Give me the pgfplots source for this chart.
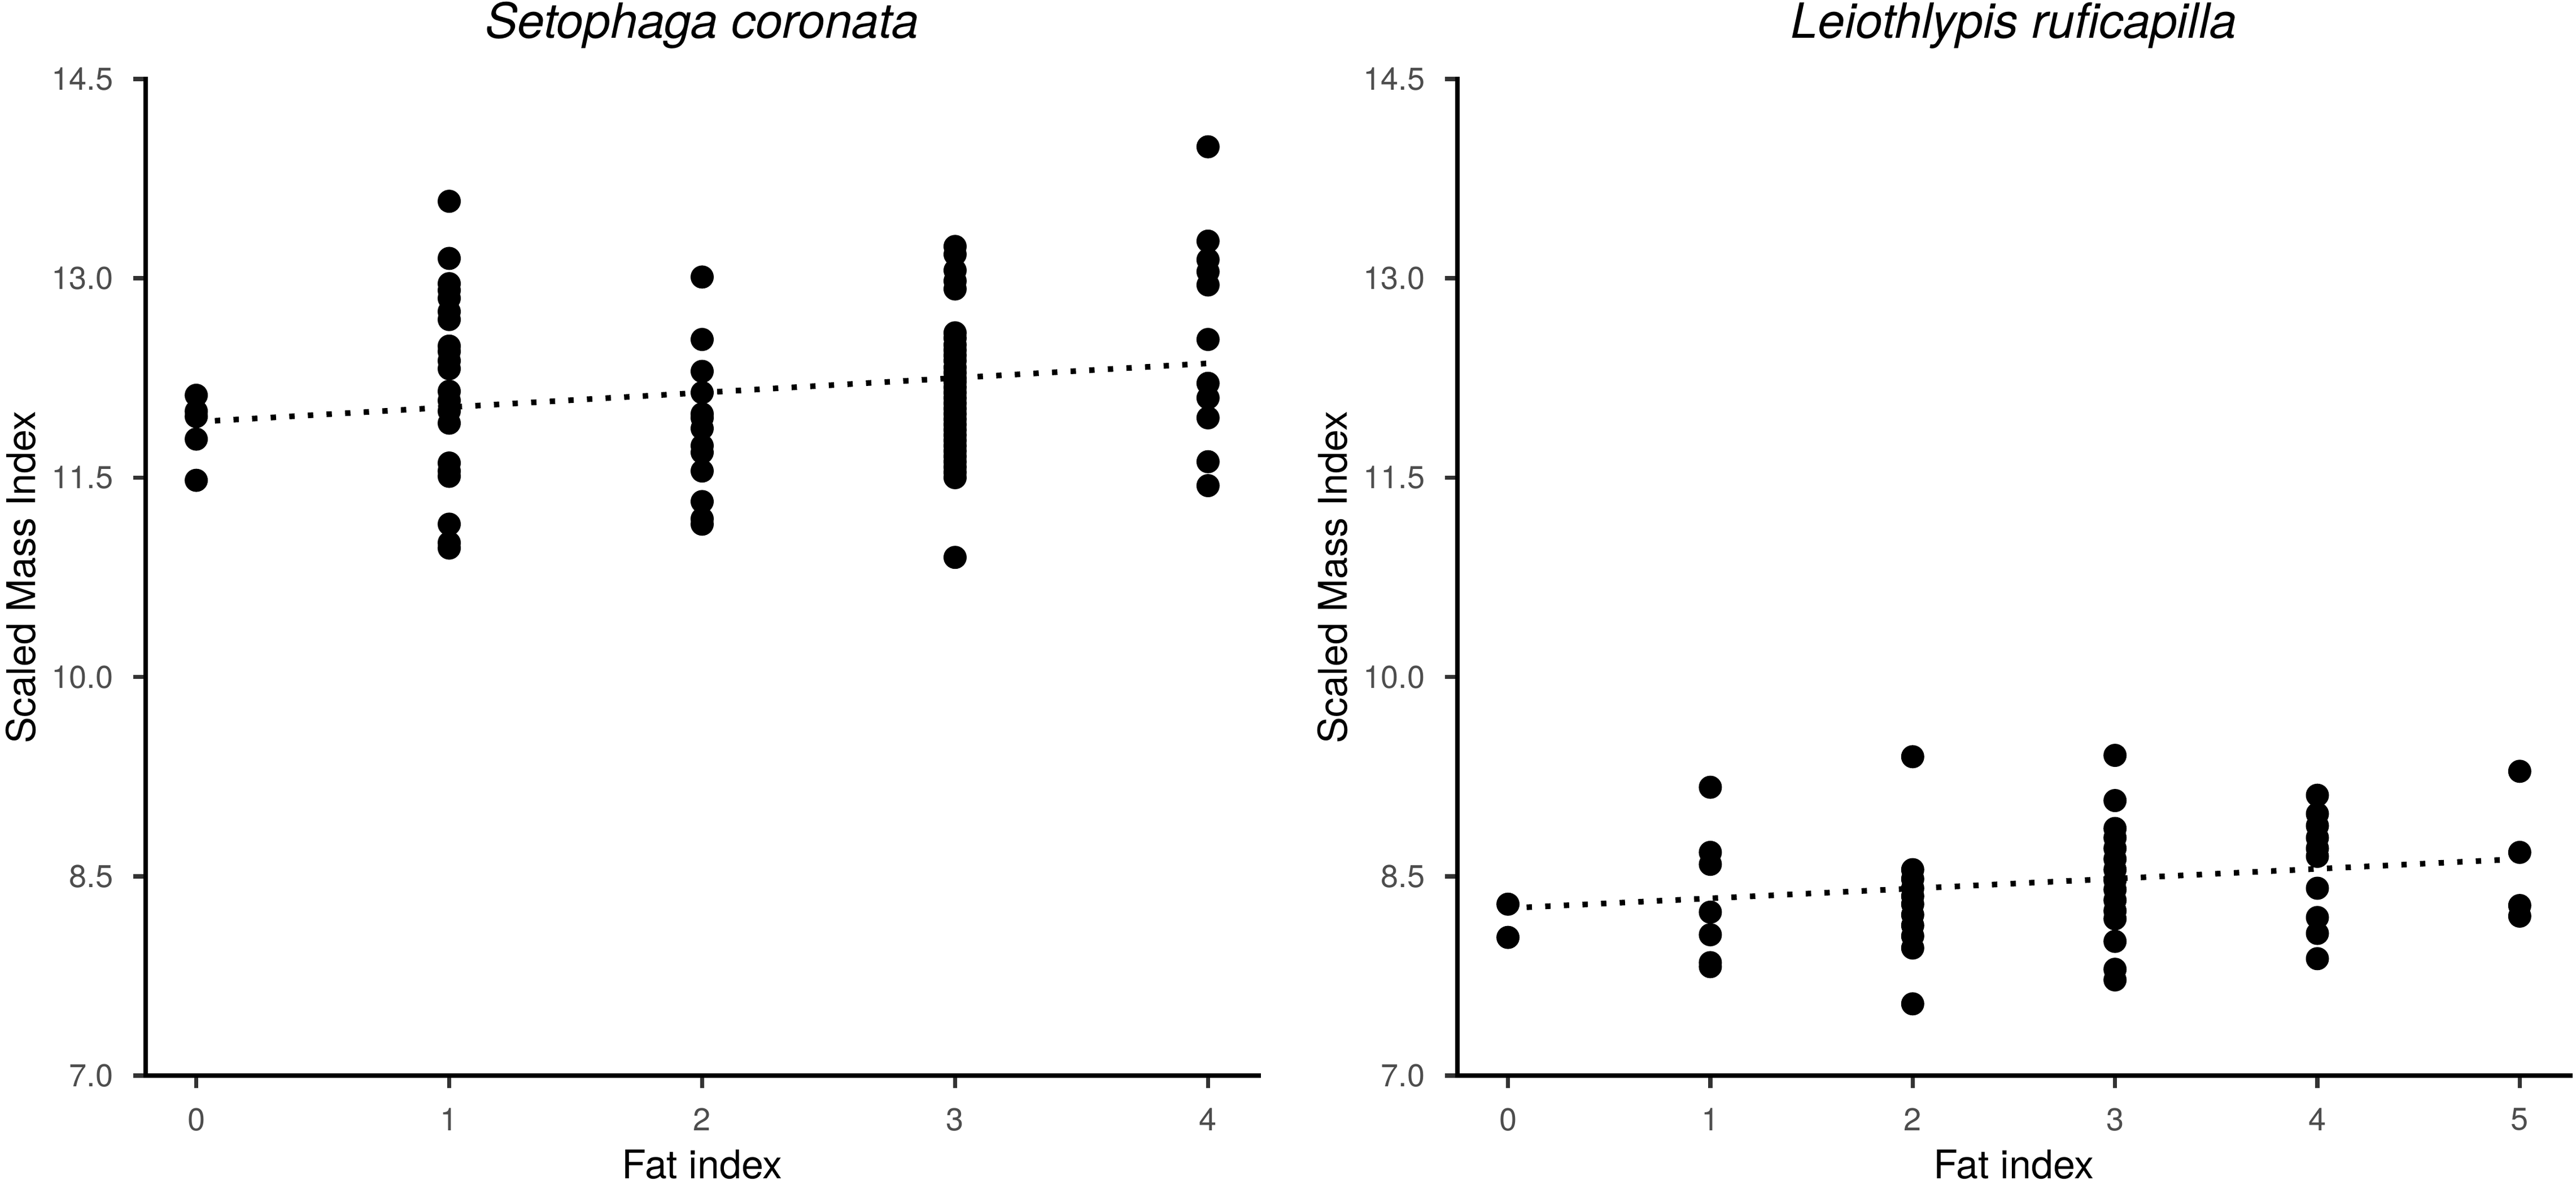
\documentclass[border=0pt]{standalone}
\usepackage{fontspec}
\setmainfont{TeX Gyre Heros}
\usepackage{pgfplots}
\usepackage{pgfplotstable}
\pgfplotsset{compat=1.18}
\definecolor{grey30}{HTML}{4D4D4D}
\definecolor{grey20}{HTML}{333333}

\pgfplotstableread{
x y
0 12.12
0 12.00
0 11.96
0 11.79
0 11.48
1 13.58
1 13.15
1 12.96
1 12.91
1 12.85
1 12.75
1 12.69
1 12.49
1 12.45
1 12.38
1 12.32
1 12.15
1 12.08
1 12.00
1 11.91
1 11.61
1 11.55
1 11.51
1 11.15
1 11.01
1 10.97
2 13.01
2 12.54
2 12.30
2 12.14
2 11.98
2 11.95
2 11.87
2 11.74
2 11.69
2 11.55
2 11.32
2 11.19
2 11.15
3 13.24
3 13.18
3 13.06
3 12.98
3 12.92
3 12.59
3 12.55
3 12.50
3 12.46
3 12.42
3 12.38
3 12.33
3 12.29
3 12.25
3 12.22
3 12.18
3 12.14
3 12.10
3 12.06
3 12.02
3 11.98
3 11.94
3 11.90
3 11.86
3 11.82
3 11.78
3 11.74
3 11.70
3 11.66
3 11.62
3 11.58
3 11.54
3 11.50
3 10.90
4 13.99
4 13.28
4 13.14
4 13.05
4 12.95
4 12.54
4 12.21
4 12.10
4 11.95
4 11.62
4 11.44
}\setophaga

\pgfplotstableread{
x y
0 8.29
0 8.04
1 9.17
1 8.68
1 8.59
1 8.23
1 8.06
1 7.85
1 7.82
2 9.40
2 8.55
2 8.48
2 8.41
2 8.35
2 8.29
2 8.21
2 8.13
2 8.05
2 7.96
2 7.54
3 9.41
3 9.07
3 8.86
3 8.79
3 8.71
3 8.63
3 8.55
3 8.47
3 8.40
3 8.32
3 8.24
3 8.18
3 8.01
3 7.80
3 7.72
4 9.11
4 8.97
4 8.88
4 8.79
4 8.71
4 8.65
4 8.41
4 8.19
4 8.07
4 7.88
5 9.29
5 8.68
5 8.28
5 8.20
}\leiothlypis

\pgfplotsset{
  smi/.style={
    scale only axis,
    width=197.1pt, height=176.6pt,
    anchor=south west,
    clip=false,
    ymin=7, ymax=14.5,
    ytick={7,8.5,10,11.5,13,14.5},
    axis lines=left,
    axis line style={-, black, line width=0.85pt, line cap=rect},
    tick align=outside,
    major tick length=2.2pt,
    tick style={grey20, line width=0.75pt},
    tick label style={font=\fontsize{5.6}{6}\selectfont, text=grey30},
    /pgf/number format/assume math mode=true,
    yticklabel style={/pgf/number format/.cd, fixed, fixed zerofill, precision=1},
    xticklabel style={/pgf/number format/.cd, fixed, precision=0},
    every axis title shift=0pt,
    title style={font=\fontsize{8.6}{10}\selectfont\itshape, at={(0.5,1.0413)}, anchor=base, inner sep=0pt},
    xlabel style={font=\fontsize{7}{8}\selectfont, at={(0.5,-0.1031)}, anchor=base, inner sep=0pt},
    ylabel style={font=\fontsize{7}{8}\selectfont, at={(-0.0994,0.5)}, anchor=base, inner sep=0pt},
    xlabel={Fat index},
    ylabel={Scaled Mass Index},
  },
  pts/.style={only marks, mark=*, mark size=1.85pt, black, mark options={draw=none, fill=black}},
  trend/.style={black, line width=1.0pt, dash pattern=on 0.95pt off 2.35pt, mark=none},
}

\begin{document}
\begin{tikzpicture}
\path[use as bounding box] (0,0) rectangle (456.2pt,209.1pt);
\begin{axis}[smi, at={(25.8pt,18.5pt)},
  xmin=-0.2, xmax=4.2, xtick={0,1,2,3,4},
  title={Setophaga coronata}]
  \addplot[pts] table[x=x, y=y] {\setophaga};
  \addplot[trend] coordinates {(0,11.92) (4,12.36)};
\end{axis}
\begin{axis}[smi, at={(258.1pt,18.5pt)},
  xmin=-0.25, xmax=5.25, xtick={0,1,2,3,4,5},
  title={Leiothlypis ruficapilla}]
  \addplot[pts] table[x=x, y=y] {\leiothlypis};
  \addplot[trend] coordinates {(0,8.26) (5,8.63)};
\end{axis}
\end{tikzpicture}
\end{document}
